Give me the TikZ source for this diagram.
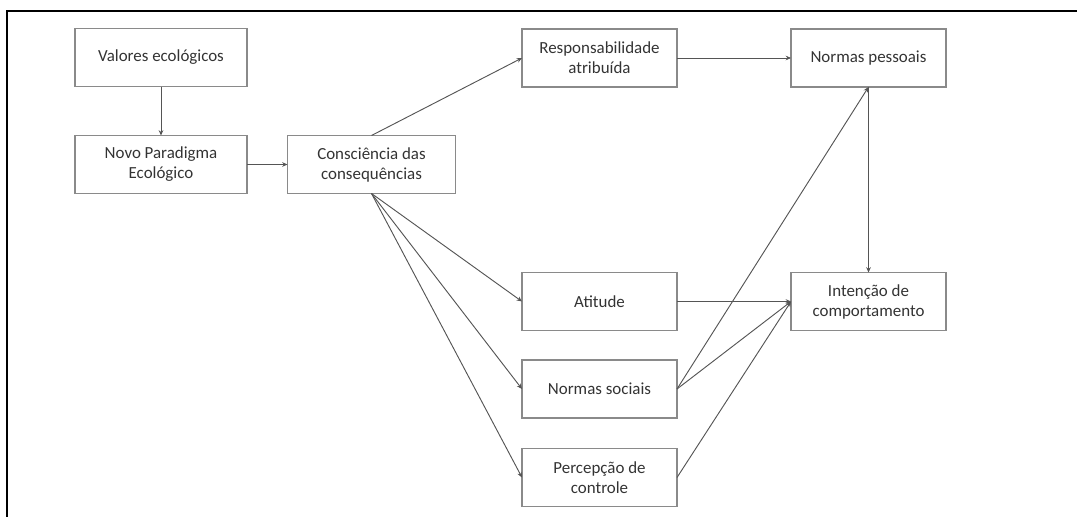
\documentclass[tikz,border=0pt]{standalone}
\usepackage{fontspec}
\setmainfont{Carlito}
\usetikzlibrary{arrows.meta}
\definecolor{borda}{HTML}{8A8A8A}
\definecolor{linha}{HTML}{555555}
\definecolor{texto}{HTML}{333333}
\tikzset{
  caixa/.style={draw=borda,line width=1.1pt,inner sep=0pt,outer sep=0pt,
    minimum height=43.5pt,align=center,text=texto,
    font=\fontsize{12.7}{15}\selectfont},
  larga/.style={caixa,minimum width=129pt},
  media/.style={caixa,minimum width=126pt},
  estreita/.style={caixa,minimum width=116.25pt},
  seta/.style={draw=linha,line width=0.7pt,-{Stealth[length=4pt,width=3.5pt]}}
}
\begin{document}
\begin{tikzpicture}[x=0.75pt,y=-0.75pt]
      \useasboundingbox (0,0) rectangle (1077,517);
      \draw[line width=1.6pt] (7,517)--(7,11)--(1077,11);
      % coluna da esquerda
      \node[larga] (valores) at (161,57.5){Valores ecológicos};
      \node[larga] (paradigma) at (161,164.5){Novo Paradigma\\Ecológico};
      \node[media] (consciencia) at (371.5,164.5){Consciência das\\consequências};
      % coluna do meio
      \node[estreita] (responsab) at (599.5,58){Responsabilidade\\atribuída};
      \node[estreita] (atitude) at (599.5,301.5){Atitude};
      \node[estreita] (sociais) at (599.5,389){Normas sociais};
      \node[estreita] (controle) at (599.5,477.5){Percepção de\\controle};
      % coluna da direita
      \node[estreita] (pessoais) at (868.5,58){Normas pessoais};
      \node[estreita] (intencao) at (868.5,301.5){Intenção de\\comportamento};
      % setas
      \draw[seta] (valores)--(paradigma);
      \draw[seta] (paradigma)--(consciencia);
      \draw[seta] (consciencia.north)--(responsab.west);
      \draw[seta] (responsab)--(pessoais);
      \draw[seta] (pessoais)--(intencao);
      \draw[seta] (consciencia.south)--(atitude.west);
      \draw[seta] (consciencia.south)--(sociais.west);
      \draw[seta] (consciencia.south)--(controle.west);
      \draw[seta] (atitude)--(intencao);
      \draw[seta] (sociais.east)--(pessoais.south);
      \draw[seta] (sociais.east)--(intencao.west);
      \draw[seta] (controle.east)--(intencao.west);
    \end{tikzpicture}
\end{document}
